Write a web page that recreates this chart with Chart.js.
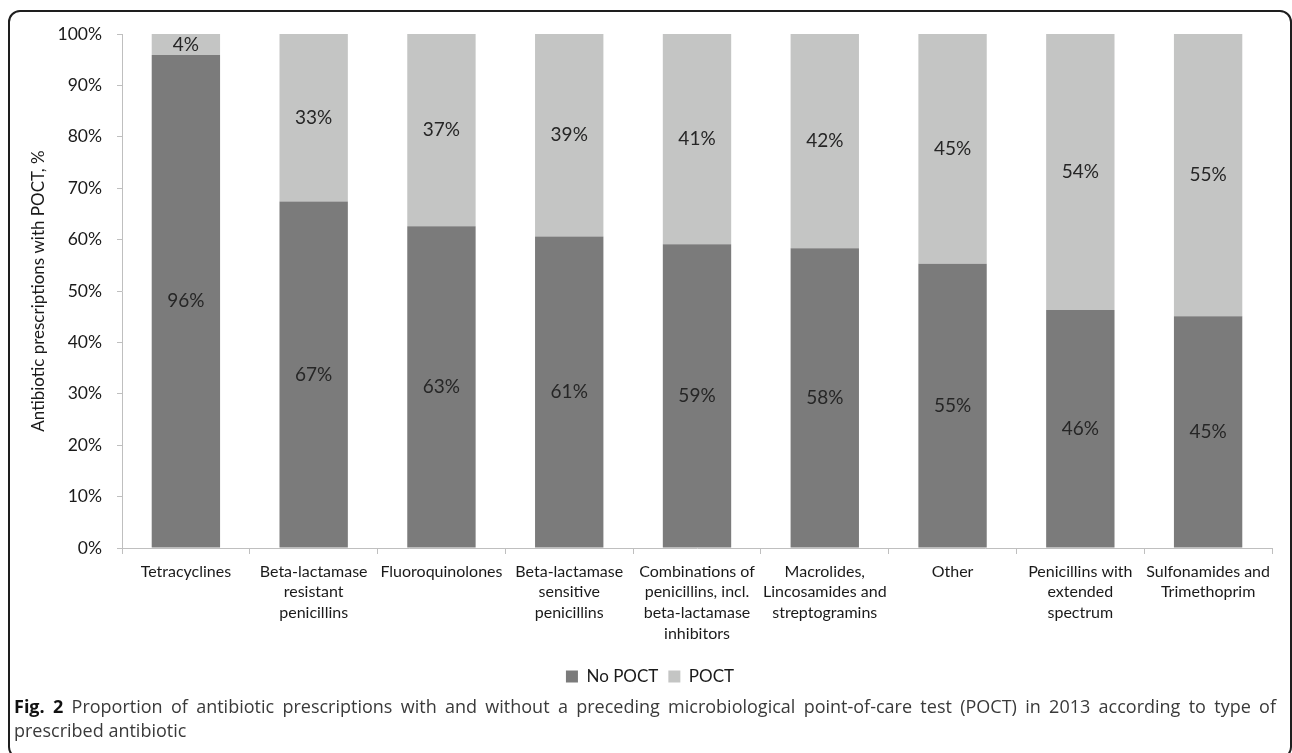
<!DOCTYPE html>
<html>
<head>
<meta charset="utf-8">
<script src="https://cdn.jsdelivr.net/npm/chart.js@4.4.0/dist/chart.umd.min.js"></script>
<style>
  body { margin: 0; background: #fff; width: 1292px; height: 753px; overflow: hidden; position: relative; }
  #frame { position: absolute; left: 8px; top: 10px; width: 1280px; height: 745px; border: 2px solid #1e1e1e; border-radius: 12px; pointer-events: none; }
  #chart { position: absolute; left: 0; top: 0; }
  #caption { position: absolute; left: 14px; top: 694px; width: 1262px; font-family: "Open Sans", sans-serif; font-size: 18px; line-height: 24px; color: #3a3a3a; }
  #caption .l1 { text-align: justify; text-align-last: justify; white-space: nowrap; }
  #caption b { color: #111; }
</style>
</head>
<body>
<div id="frame"></div>
<canvas id="chart" width="1292" height="695"></canvas>
<div id="caption">
  <div class="l1"><b>Fig. 2</b> Proportion of antibiotic prescriptions with and without a preceding microbiological point-of-care test (POCT) in 2013 according to type of</div>
  <div>prescribed antibiotic</div>
</div>
<script>
  // categories (multi-line labels as in the figure)
  const categories = [
    'Tetracyclines',
    ['Beta-lactamase', 'resistant', 'penicillins'],
    'Fluoroquinolones',
    ['Beta-lactamase', 'sensitive', 'penicillins'],
    ['Combinations of', 'penicillins, incl.', 'beta-lactamase', 'inhibitors'],
    ['Macrolides,', 'Lincosamides and', 'streptogramins'],
    'Other',
    ['Penicillins with', 'extended', 'spectrum'],
    ['Sulfonamides and', 'Trimethoprim']
  ];
  const noPoct = [95.9, 67.4, 62.6, 60.6, 59.1, 58.3, 55.3, 46.3, 45.1];
  const poct = [4.1, 32.6, 37.4, 39.4, 40.9, 41.7, 44.7, 53.7, 54.9];
  const yTicks = [0, 10, 20, 30, 40, 50, 60, 70, 80, 90, 100];

  const axisGrey = '#bfbfbf';

  // write the % value in the middle of each bar segment
  const segmentLabels = {
    id: 'segmentLabels',
    afterDatasetsDraw(chart) {
      const ctx = chart.ctx;
      ctx.save();
      ctx.font = '19px Lato';
      ctx.fillStyle = '#262626';
      ctx.textAlign = 'center';
      ctx.textBaseline = 'middle';
      chart.data.datasets.forEach((ds, i) => {
        chart.getDatasetMeta(i).data.forEach((bar, j) => {
          const p = bar.getProps(['x', 'y', 'base'], true);
          ctx.fillText(Math.round(ds.data[j]) + '%', p.x, (p.y + p.base) / 2);
        });
      });
      ctx.restore();
    }
  };

  const ctx = document.getElementById('chart').getContext('2d');
  const chart = new Chart(ctx, {
    type: 'bar',
    data: {
      labels: categories,
      datasets: [
        { label: 'No POCT', data: noPoct, backgroundColor: '#7b7b7b', categoryPercentage: 1, barPercentage: 0.535 },
        { label: 'POCT', data: poct, backgroundColor: '#c4c5c4', categoryPercentage: 1, barPercentage: 0.535 }
      ]
    },
    options: {
      responsive: false,
      animation: false,
      devicePixelRatio: 1,
      layout: { padding: { left: 28, right: 20, top: 34, bottom: 0 } },
      plugins: {
        tooltip: { enabled: false },
        legend: {
          position: 'bottom',
          labels: { font: { family: 'Lato', size: 17 }, color: '#1a1a1a', boxWidth: 12, boxHeight: 12, padding: 10 }
        }
      },
      scales: {
        x: {
          stacked: true,
          grid: { display: true, drawOnChartArea: false, drawTicks: true, tickLength: 6, color: axisGrey, offset: true },
          border: { color: axisGrey },
          ticks: { font: { family: 'Lato', size: 16, lineHeight: 1.3 }, color: '#1a1a1a', autoSkip: false, maxRotation: 0, padding: 7 },
          afterFit(scale) { scale.height = 110; }
        },
        y: {
          stacked: true,
          min: 0,
          max: 100,
          afterBuildTicks(scale) { scale.ticks = yTicks.map(v => ({ value: v })); },
          grid: { display: true, drawOnChartArea: false, drawTicks: true, tickLength: 5, color: axisGrey },
          border: { color: axisGrey },
          ticks: { font: { family: 'Lato', size: 17.5 }, color: '#1a1a1a', padding: 15, callback: v => v + '%' },
          title: { display: true, text: 'Antibiotic prescriptions with POCT, %', font: { family: 'Lato', size: 17 }, color: '#1a1a1a', padding: { top: 0, bottom: 0 } },
          afterFit(scale) { scale.width = 94; }
        }
      }
    },
    plugins: [segmentLabels]
  });
</script>
</body>
</html>
